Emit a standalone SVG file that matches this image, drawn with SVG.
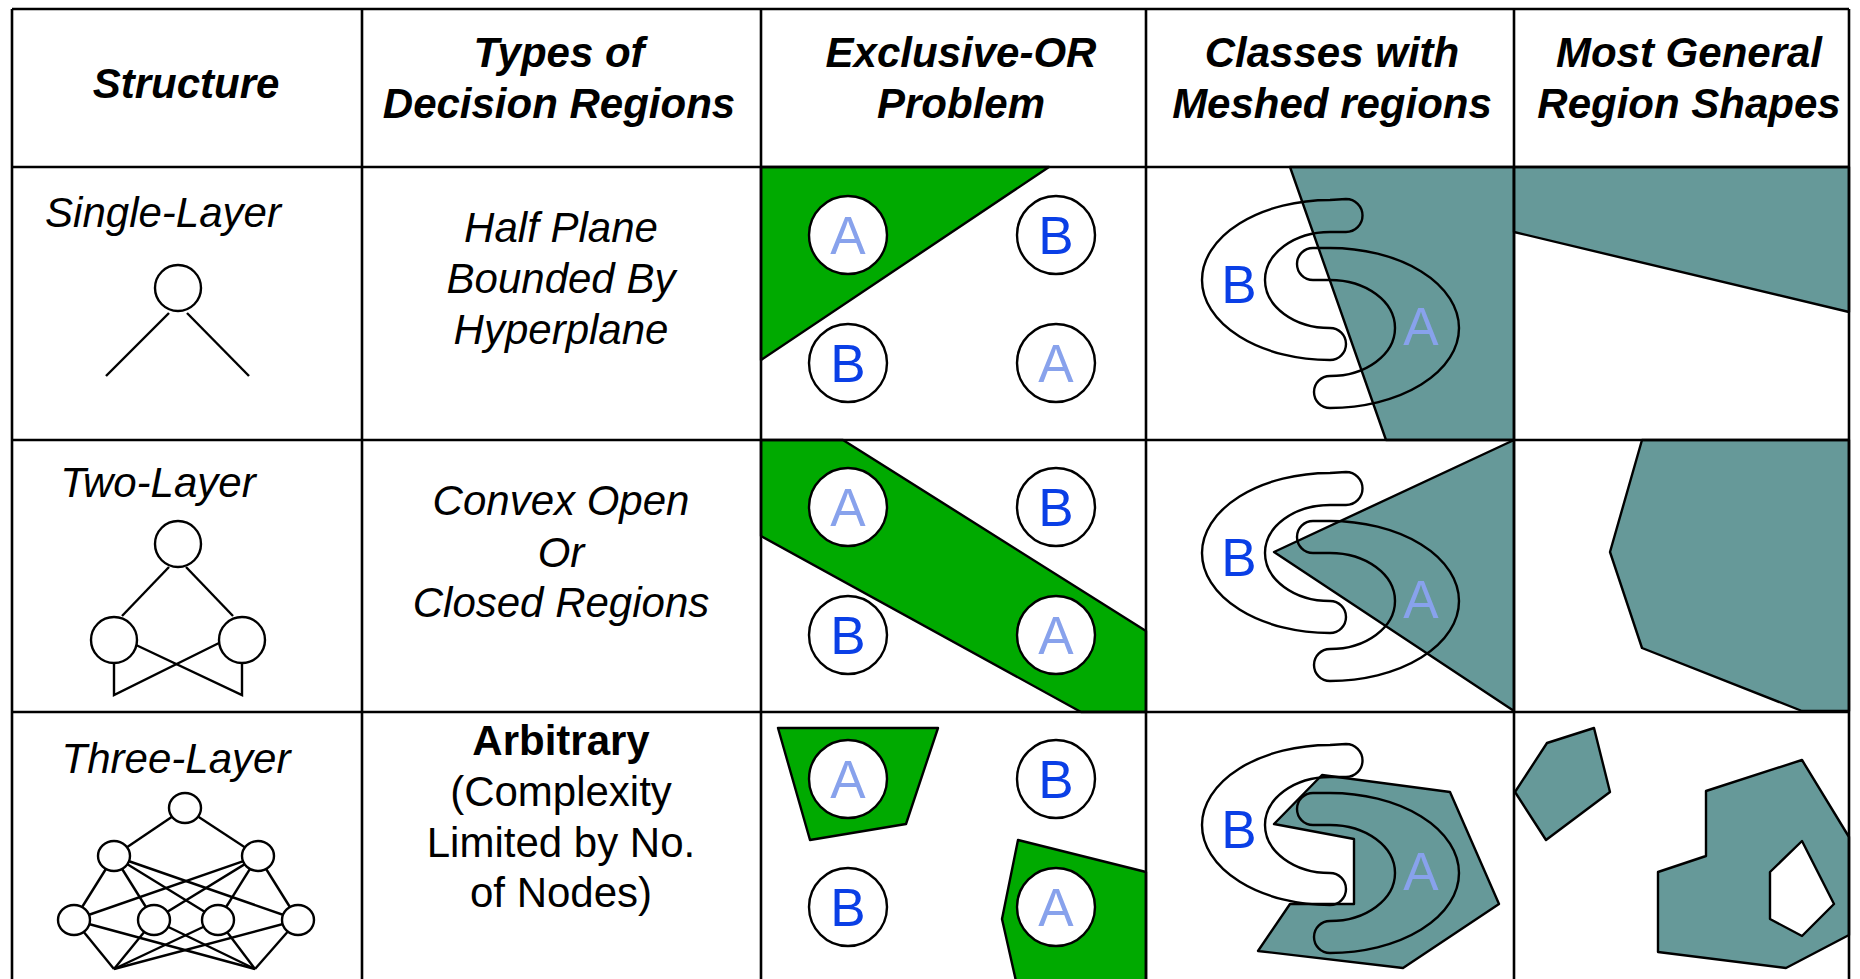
<svg xmlns="http://www.w3.org/2000/svg" xmlns:xlink="http://www.w3.org/1999/xlink" width="1860" height="979" viewBox="0 0 1860 979">
<style>
.grid{stroke:#000;stroke-width:2.6;fill:none}
.ln{stroke:#000;stroke-width:2.4;fill:none}
.nd{stroke:#000;stroke-width:2.4;fill:#fff}
.green{fill:#00aa00;stroke:#000;stroke-width:2.4;stroke-linejoin:round}
.teal{fill:#669999;stroke:#000;stroke-width:2.4;stroke-linejoin:round}
.hole{fill:#fff;stroke:#000;stroke-width:2.4;stroke-linejoin:round}
.cls{fill:none;stroke:#000;stroke-width:2.4}
.pt{fill:#fff;stroke:#000;stroke-width:2.4}
.hdr{font-family:"Liberation Sans",Arial,sans-serif;font-size:42px;font-weight:bold;font-style:italic;text-anchor:middle;fill:#000}
.it{font-family:"Liberation Sans",Arial,sans-serif;font-size:42px;font-style:italic;text-anchor:middle;fill:#000}
.rg{font-family:"Liberation Sans",Arial,sans-serif;font-size:42px;text-anchor:middle;fill:#000}
.bd{font-weight:bold}
.la{font-family:"Liberation Sans",Arial,sans-serif;font-size:53px;text-anchor:middle;fill:#88a2ec}
.lb{font-family:"Liberation Sans",Arial,sans-serif;font-size:53px;text-anchor:middle;fill:#0a3fe6}
</style>
<defs>
<g id="mesh">
<path class="cls" d="M200,32 L184,33 A128 80 0 0 0 184,193 A16 16 0 0 0 184,161 A65 48 0 0 1 184,65 L200,65 A16.5 16.5 0 0 0 200,32 Z"/>
<path class="cls" d="M167,81 L184,81 A129 80 0 0 1 184,241 A16 16 0 0 1 184,209 A65 48 0 0 0 184,113 L167,113 A16 16 0 0 1 167,81 Z"/>
<text class="lb" x="93" y="136">B</text>
<text class="la" x="275" y="178">A</text>
</g>
<g id="xor">
<circle class="pt" cx="87" cy="68" r="39"/>
<circle class="pt" cx="295" cy="68" r="39"/>
<circle class="pt" cx="87" cy="196" r="39"/>
<circle class="pt" cx="295" cy="196" r="39"/>
</g>
</defs>

<g id="header">
<text class="hdr" x="186" y="98">Structure</text>
<text class="hdr" x="559" y="67">Types of</text>
<text class="hdr" x="559" y="118">Decision Regions</text>
<text class="hdr" x="961" y="67">Exclusive-OR</text>
<text class="hdr" x="961" y="118">Problem</text>
<text class="hdr" x="1332" y="67">Classes with</text>
<text class="hdr" x="1332" y="118">Meshed regions</text>
<text class="hdr" x="1689" y="67">Most General</text>
<text class="hdr" x="1689" y="118">Region Shapes</text>
</g>

<g id="row1-structure">
<text class="it" x="163" y="227">Single-Layer</text>
<circle class="nd" cx="178" cy="288" r="23"/>
<line class="ln" x1="169" y1="313" x2="106" y2="376"/>
<line class="ln" x1="187" y1="313" x2="249" y2="376"/>
</g>
<g id="row1-type">
<text class="it" x="561" y="242">Half Plane</text>
<text class="it" x="561" y="293">Bounded By</text>
<text class="it" x="561" y="344">Hyperplane</text>
</g>
<g id="row1-xor">
<polygon class="green" points="761,167 1049,167 761,360"/>
<use xlink:href="#xor" transform="translate(761,167)"/>
<text class="la" x="848" y="254">A</text>
<text class="lb" x="1056" y="254">B</text>
<text class="lb" x="848" y="382">B</text>
<text class="la" x="1056" y="382">A</text>
</g>
<g id="row1-mesh">
<polygon class="teal" points="1290,167 1514,167 1514,440 1386,440"/>
<use xlink:href="#mesh" transform="translate(1146,167)"/>
</g>
<g id="row1-general">
<polygon class="teal" points="1514,167 1849,167 1849,312 1514,232"/>
</g>

<g id="row2-structure">
<text class="it" x="158" y="497">Two-Layer</text>
<polyline class="ln" points="114,660 114,695 219,643"/>
<polyline class="ln" points="136,645 242,695 242,660"/>
<line class="ln" x1="169" y1="567" x2="122" y2="616"/>
<line class="ln" x1="186" y1="567" x2="233" y2="616"/>
<circle class="nd" cx="178" cy="544" r="23"/>
<circle class="nd" cx="114" cy="640" r="23"/>
<circle class="nd" cx="242" cy="640" r="23"/>
</g>
<g id="row2-type">
<text class="it" x="561" y="515">Convex Open</text>
<text class="it" x="561" y="567">Or</text>
<text class="it" x="561" y="617">Closed Regions</text>
</g>
<g id="row2-xor">
<polygon class="green" points="761,440 843,440 1146,631 1146,712 1081,712 761,536"/>
<use xlink:href="#xor" transform="translate(761,439)"/>
<text class="la" x="848" y="526">A</text>
<text class="lb" x="1056" y="526">B</text>
<text class="lb" x="848" y="654">B</text>
<text class="la" x="1056" y="654">A</text>
</g>
<g id="row2-mesh">
<polygon class="teal" points="1514,440 1274,552 1514,711"/>
<use xlink:href="#mesh" transform="translate(1146,440)"/>
</g>
<g id="row2-general">
<polygon class="teal" points="1642,440 1849,440 1849,711 1802,711 1642,648 1610,552"/>
</g>

<g id="row3-structure">
<text class="it" x="176" y="773">Three-Layer</text>
<g class="ln">
<line x1="185" y1="808" x2="114" y2="856"/>
<line x1="185" y1="808" x2="258" y2="856"/>
<line x1="114" y1="856" x2="74" y2="920"/>
<line x1="114" y1="856" x2="154" y2="920"/>
<line x1="114" y1="856" x2="218" y2="920"/>
<line x1="114" y1="856" x2="298" y2="920"/>
<line x1="258" y1="856" x2="74" y2="920"/>
<line x1="258" y1="856" x2="154" y2="920"/>
<line x1="258" y1="856" x2="218" y2="920"/>
<line x1="258" y1="856" x2="298" y2="920"/>
<line x1="74" y1="920" x2="114" y2="969"/>
<line x1="74" y1="920" x2="255" y2="969"/>
<line x1="154" y1="920" x2="114" y2="969"/>
<line x1="154" y1="920" x2="255" y2="969"/>
<line x1="218" y1="920" x2="114" y2="969"/>
<line x1="218" y1="920" x2="255" y2="969"/>
<line x1="298" y1="920" x2="114" y2="969"/>
<line x1="298" y1="920" x2="255" y2="969"/>
</g>
<ellipse class="nd" cx="185" cy="808" rx="16" ry="15"/>
<ellipse class="nd" cx="114" cy="856" rx="16" ry="15"/>
<ellipse class="nd" cx="258" cy="856" rx="16" ry="15"/>
<ellipse class="nd" cx="74" cy="920" rx="16" ry="15"/>
<ellipse class="nd" cx="154" cy="920" rx="16" ry="15"/>
<ellipse class="nd" cx="218" cy="920" rx="16" ry="15"/>
<ellipse class="nd" cx="298" cy="920" rx="16" ry="15"/>
</g>
<g id="row3-type">
<text class="rg bd" x="561" y="755">Arbitrary</text>
<text class="rg" x="561" y="806">(Complexity</text>
<text class="rg" x="561" y="857">Limited by No.</text>
<text class="rg" x="561" y="907">of Nodes)</text>
</g>
<g id="row3-xor">
<polygon class="green" points="778,728 938,728 906,824 810,840"/>
<polygon class="green" points="1018,840 1146,872 1146,990 1018,990 1002,919"/>
<use xlink:href="#xor" transform="translate(761,711)"/>
<text class="la" x="848" y="798">A</text>
<text class="lb" x="1056" y="798">B</text>
<text class="lb" x="848" y="926">B</text>
<text class="la" x="1056" y="926">A</text>
</g>
<g id="row3-mesh">
<polygon class="teal" points="1322,775 1450,792 1499,904 1403,968 1258,951 1290,904 1354,904 1354,839 1274,824"/>
<use xlink:href="#mesh" transform="translate(1146,712)"/>
</g>
<g id="row3-general">
<polygon class="teal" points="1547,743 1594,728 1610,792 1546,840 1515,792"/>
<polygon class="teal" points="1706,791 1802,760 1849,837 1849,935 1786,968 1658,952 1658,872 1706,856"/>
<polygon class="hole" points="1802,841 1834,904 1802,936 1770,919 1770,872"/>
</g>

<g id="table">
<line class="grid" x1="12" y1="9" x2="1849" y2="9"/>
<line class="grid" x1="12" y1="167" x2="1849" y2="167"/>
<line class="grid" x1="12" y1="440" x2="1849" y2="440"/>
<line class="grid" x1="12" y1="712" x2="1849" y2="712"/>
<line class="grid" x1="12" y1="9" x2="12" y2="985"/>
<line class="grid" x1="362" y1="9" x2="362" y2="985"/>
<line class="grid" x1="761" y1="9" x2="761" y2="985"/>
<line class="grid" x1="1146" y1="9" x2="1146" y2="985"/>
<line class="grid" x1="1514" y1="9" x2="1514" y2="985"/>
<line class="grid" x1="1849" y1="9" x2="1849" y2="985"/>
</g>
</svg>
